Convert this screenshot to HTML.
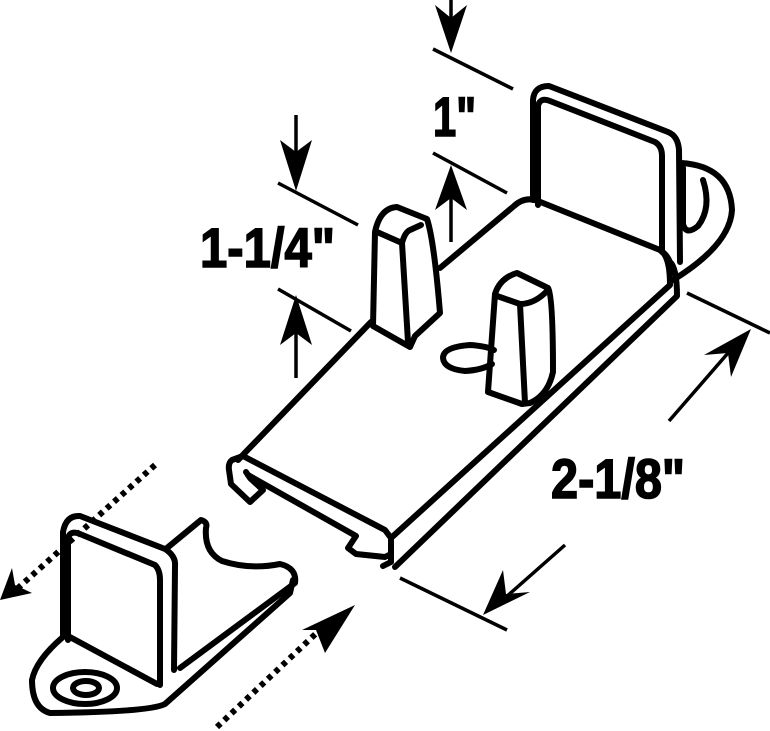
<!DOCTYPE html>
<html><head><meta charset="utf-8"><style>
html,body{margin:0;padding:0;background:#fff;width:770px;height:731px;overflow:hidden}
svg{display:block}
text{font-family:"Liberation Sans",sans-serif;font-weight:bold;fill:#000;stroke:#000;stroke-width:1.6}
</style></head><body>
<svg width="770" height="731" viewBox="0 0 770 731" xmlns="http://www.w3.org/2000/svg">
<g fill="none" stroke="#000" stroke-width="6" stroke-linejoin="round" stroke-linecap="round">
<!-- back wall -->
<path d="M533,200 L533,100 Q534,86 549,86 L668,132 Q678,136 679,150 L680,262"/>
<path d="M538,205 L538,106 Q540,97 550,101 L655,142 Q662,146 662,156 L662,252"/>
<!-- loop -->
<path d="M681,163 Q730,166 732,210 Q730,245 673,280"/>
<path d="M683,168 L683,224 Q686,236 698,226 Q712,208 703,180"/>
<!-- plate top -->
<path d="M440,268 L514,206 Q525,196 538,201 L660,250 Q672,258 671,272"/>
<path d="M371,322 L238,460"/>
<path d="M660,250 Q670,256 670,285 L391,538"/>
<path d="M670,262 Q677,268 677,296 L395,567"/>
<!-- channel end -->
<path d="M243,456 L385,530 L391,538 L391,562 L383,566"/>
<path d="M243,456 L232,460 Q228,463 229,470 L231,484 L250,502 L263,490 L250,478 L246,472"/>
<path d="M248,475 L356,536 L348,548 L356,554 L385,557 L391,554"/>
<!-- left peg -->
<path d="M373,326 L375,232 Q380,208 397,207 L427,219 Q434,240 440,313 L415,336 L410,347 L373,326 Z"/>
<path d="M377,232 L402,243 Q405,232 410,230 L421,225"/>
<path d="M402,243 L408,342"/>
<!-- right peg -->
<path d="M488,392 L495,294 Q500,278 517,273 L548,288 Q553,295 553,372 Q548,395 530,403 L522,404 L488,392 Z"/>
<path d="M497,296 L520,304 Q535,304 548,290"/>
<path d="M520,304 L525,403"/>
<!-- hole -->
<path d="M494,350 Q486,346 470,345 Q443,347 443,358 Q444,369 465,371 Q482,370 492,364"/>
</g>
<!-- dimension lines -->
<g stroke="#000" stroke-width="3.5" fill="none" stroke-linecap="butt">
<line x1="433" y1="49" x2="513" y2="89"/>
<line x1="451" y1="0" x2="451" y2="30"/>
<line x1="433" y1="153" x2="507" y2="193"/>
<line x1="451" y1="190" x2="451" y2="242"/>
<line x1="278" y1="183" x2="358" y2="225"/>
<line x1="296" y1="115" x2="296" y2="160"/>
<line x1="278" y1="289" x2="351" y2="331"/>
<line x1="296" y1="320" x2="296" y2="378"/>
<line x1="687" y1="293" x2="770" y2="333"/>
<line x1="669" y1="421" x2="735" y2="345"/>
<line x1="400" y1="578" x2="507" y2="630"/>
<line x1="565" y1="545" x2="505" y2="598"/>
</g>
<g fill="#000">
<polygon points="451,53 435,5 451,18 467,5"/>
<polygon points="451,165 435,210 451,198 467,210"/>
<polygon points="296,191 280,140 296,152 312,140"/>
<polygon points="296,295 280,345 296,333 312,345"/>
<polygon points="751,329 704,355 728,353 731,377"/>
<polygon points="483,615 530,592 506,594 503,570"/>
<polygon points="0,600 12,568 15,585 32,593"/>
<polygon points="355,605 302,630 316,630 325,653"/>
</g>
<g stroke="#000" stroke-width="6" fill="none" stroke-dasharray="5,5">
<line x1="155" y1="465" x2="18" y2="588"/>
<line x1="217" y1="727" x2="325" y2="625"/>
</g>
<!-- small part -->
<g fill="none" stroke="#000" stroke-width="6" stroke-linejoin="round" stroke-linecap="round">
<path d="M63,637 L63,532 Q66,515 80,516 L165,549 Q176,556 175,566 L174,670"/>
<path d="M68,640 L68,538 Q70,530 80,534 L155,565 Q160,570 160,580 L160,685"/>
<path d="M167,548 L201,520 Q208,522 206,528 Q204,552 222,561 Q250,570 280,564 Q297,568 295,583 L180,668"/>
<path d="M293,580 L290,593 L165,704 Q150,712 50,713 Q32,708 32,680 Q36,660 63,637"/>
<path d="M68,636 L157,684"/>
<ellipse cx="85" cy="688" rx="32" ry="16"/>
<ellipse cx="86" cy="688" rx="13" ry="7"/>
</g>
<text x="433" y="136" font-size="56" textLength="43" lengthAdjust="spacingAndGlyphs">1"</text>
<text x="200" y="267" font-size="56" textLength="135" lengthAdjust="spacingAndGlyphs">1-1/4"</text>
<text x="551" y="498" font-size="56" textLength="134" lengthAdjust="spacingAndGlyphs">2-1/8"</text>
</svg>
</body></html>
